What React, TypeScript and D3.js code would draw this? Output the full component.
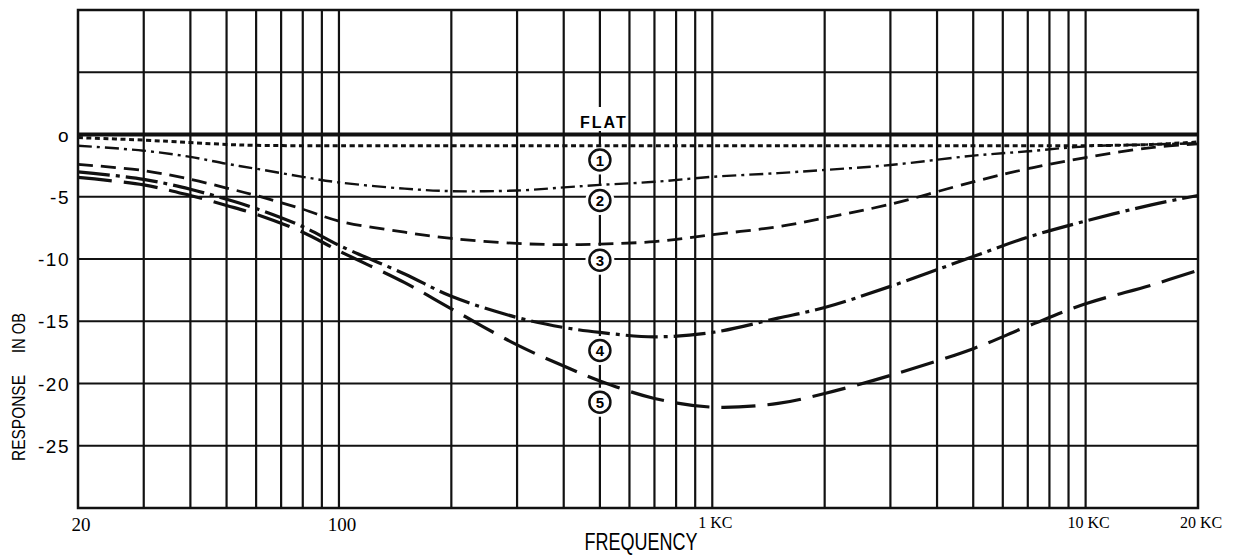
import React, { useEffect, useRef } from 'react';
import * as d3 from 'd3';

// frequency points (Hz) shared by the numbered curves
const freqs = [20, 30, 40, 50, 60, 80, 100, 150, 200, 300, 400, 500, 700, 1000, 1500, 2000, 3000, 5000, 7000, 10000, 15000, 20000];

const flatFreqs = [20, 20000];
const flatValues = [0, 0];

// response in dB
const curve1 = [-0.25, -0.45, -0.65, -0.8, -0.87, -0.9, -0.9, -0.9, -0.9, -0.9, -0.9, -0.9, -0.9, -0.9, -0.9, -0.9, -0.9, -0.9, -0.9, -0.9, -0.8, -0.6];
const curve2 = [-0.9, -1.3, -1.8, -2.35, -2.75, -3.4, -3.85, -4.35, -4.55, -4.5, -4.25, -4.05, -3.8, -3.4, -3.1, -2.85, -2.45, -1.7, -1.35, -0.95, -0.8, -0.7];
const curve3 = [-2.4, -2.9, -3.6, -4.3, -4.9, -6.0, -6.95, -7.85, -8.35, -8.75, -8.85, -8.8, -8.6, -8.05, -7.4, -6.7, -5.6, -3.8, -2.75, -1.85, -1.05, -0.75];
const curve4 = [-3.0, -3.6, -4.4, -5.2, -5.95, -7.4, -8.9, -11.2, -13.0, -14.7, -15.5, -15.9, -16.25, -15.9, -14.75, -13.9, -12.2, -9.8, -8.25, -6.95, -5.65, -4.9];
const curve5 = [-3.45, -4.05, -4.9, -5.7, -6.4, -7.85, -9.35, -11.9, -14.0, -16.9, -18.6, -19.8, -21.2, -21.9, -21.6, -20.8, -19.35, -17.2, -15.4, -13.6, -12.1, -10.9];

const gridFreqs = [30, 40, 50, 60, 70, 80, 90, 100, 200, 300, 400, 500, 600, 700, 800, 900, 1000, 2000, 3000, 4000, 5000, 6000, 7000, 8000, 9000, 10000];
const gridDb = [5, -5, -10, -15, -20, -25];
const dbTicks = [0, -5, -10, -15, -20, -25];
const dbTickLabels = ['o', '-5', '-10', '-15', '-20', '-25'];
const freqTicks = [20, 100, 1000, 10000, 20000];
const freqTickLabels = ['20', '100', '1 KC', '10 KC', '20 KC'];

const labelFreq = 500; // circled numbers sit on the 500 cycle line
const circleLabels = ['1', '2', '3', '4', '5'];
const circleDb = [-2.05, -5.3, -10.1, -17.35, -21.5];

export default function App() {
  const ref = useRef<SVGSVGElement>(null);

  useEffect(() => {
    const svg = d3.select(ref.current);
    svg.selectAll('*').remove();

    const left = 78, right = 1198, top = 10, bottom = 508;
    const x = d3.scaleLog().domain([20, 20000]).range([left, right]);
    const y = d3.scaleLinear().domain([-30, 10]).range([bottom, top]);

    const g = svg.append('g');

    // grid
    g.selectAll('.vgrid').data(gridFreqs).join('line')
      .attr('x1', d => x(d)).attr('x2', d => x(d))
      .attr('y1', top).attr('y2', bottom)
      .attr('stroke', '#111').attr('stroke-width', 2.2);
    g.selectAll('.hgrid').data(gridDb).join('line')
      .attr('x1', left).attr('x2', right)
      .attr('y1', d => y(d)).attr('y2', d => y(d))
      .attr('stroke', '#111').attr('stroke-width', 2);
    g.append('rect')
      .attr('x', left).attr('y', top).attr('width', right - left).attr('height', bottom - top)
      .attr('fill', 'none').attr('stroke', '#111').attr('stroke-width', 2.5);

    // white gaps behind the labels
    const lx = x(labelFreq);
    g.append('rect').attr('x', lx - 24).attr('y', 107).attr('width', 50).attr('height', 24).attr('fill', 'white');
    g.selectAll('.halo').data(circleDb).join('circle')
      .attr('cx', lx).attr('cy', d => y(d)).attr('r', 14.5).attr('fill', 'white');

    // curves
    const line = d3.line<[number, number]>()
      .x(d => x(d[0])).y(d => y(d[1]))
      .curve(d3.curveCatmullRom.alpha(0.5));

    const series = [
      { f: flatFreqs, v: flatValues, w: 4.2, dash: null },
      { f: freqs, v: curve1, w: 3, dash: '5 3.5' },
      { f: freqs, v: curve2, w: 2.4, dash: '14 5 3 5' },
      { f: freqs, v: curve3, w: 2.8, dash: '15 8' },
      { f: freqs, v: curve4, w: 3.2, dash: '32 6 4 6' },
      { f: freqs, v: curve5, w: 3.2, dash: '34 12' },
    ];
    series.forEach(s => {
      g.append('path')
        .attr('d', line(s.f.map((f, i) => [f, s.v[i]] as [number, number])))
        .attr('fill', 'none').attr('stroke', '#111')
        .attr('stroke-width', s.w)
        .attr('stroke-dasharray', s.dash);
    });

    // FLAT and circled numbers
    g.append('text').attr('x', lx + 4).attr('y', 128).attr('text-anchor', 'middle')
      .attr('font-family', 'Liberation Sans, Arial, sans-serif').attr('font-weight', 'bold')
      .attr('font-size', 16).attr('letter-spacing', 2).text('FLAT');
    g.selectAll('.badge').data(circleDb).join('circle')
      .attr('cx', lx).attr('cy', d => y(d)).attr('r', 10.5)
      .attr('fill', 'white').attr('stroke', '#111').attr('stroke-width', 2.5);
    g.selectAll('.badgetext').data(circleLabels).join('text')
      .attr('x', lx).attr('y', (d, i) => y(circleDb[i]) + 5.5)
      .attr('text-anchor', 'middle')
      .attr('font-family', 'Liberation Sans, Arial, sans-serif').attr('font-weight', 'bold')
      .attr('font-size', 15).text(d => d);

    // y tick labels
    g.selectAll('.ylab').data(dbTicks).join('text')
      .attr('x', 70).attr('y', d => y(d) + 7)
      .attr('text-anchor', 'end')
      .attr('font-family', 'Liberation Sans, Arial, sans-serif')
      .attr('font-size', 19).attr('letter-spacing', 1.5)
      .text((d, i) => dbTickLabels[i]);

    // x tick labels
    g.selectAll('.xlab').data(freqTicks).join('text')
      .attr('x', d => x(d) + 3)
      .attr('y', (d, i) => freqTickLabels[i].includes('KC') ? 528 : 531)
      .attr('text-anchor', 'middle')
      .attr('font-family', 'Liberation Serif, Times New Roman, serif')
      .attr('font-size', (d, i) => freqTickLabels[i].includes('KC') ? 16 : 19)
      .text((d, i) => freqTickLabels[i]);

    // axis titles
    g.append('text').attr('x', 641).attr('y', 550).attr('text-anchor', 'middle')
      .attr('font-family', 'Liberation Sans, Arial, sans-serif').attr('font-size', 23)
      .attr('textLength', 113).attr('lengthAdjust', 'spacingAndGlyphs')
      .text('FREQUENCY');
    g.append('text').attr('transform', 'translate(25,418) rotate(-90)').attr('text-anchor', 'middle')
      .attr('font-family', 'Liberation Sans, Arial, sans-serif').attr('font-size', 18)
      .attr('textLength', 86).attr('lengthAdjust', 'spacingAndGlyphs')
      .text('RESPONSE');
    g.append('text').attr('transform', 'translate(25,333) rotate(-90)').attr('text-anchor', 'middle')
      .attr('font-family', 'Liberation Sans, Arial, sans-serif').attr('font-size', 18)
      .attr('textLength', 40).attr('lengthAdjust', 'spacingAndGlyphs')
      .text('IN OB');
  }, []);

  return (
    <svg ref={ref} width={1238} height={557}
      style={{ position: 'absolute', left: 0, top: 0, background: 'white' }} />
  );
}
